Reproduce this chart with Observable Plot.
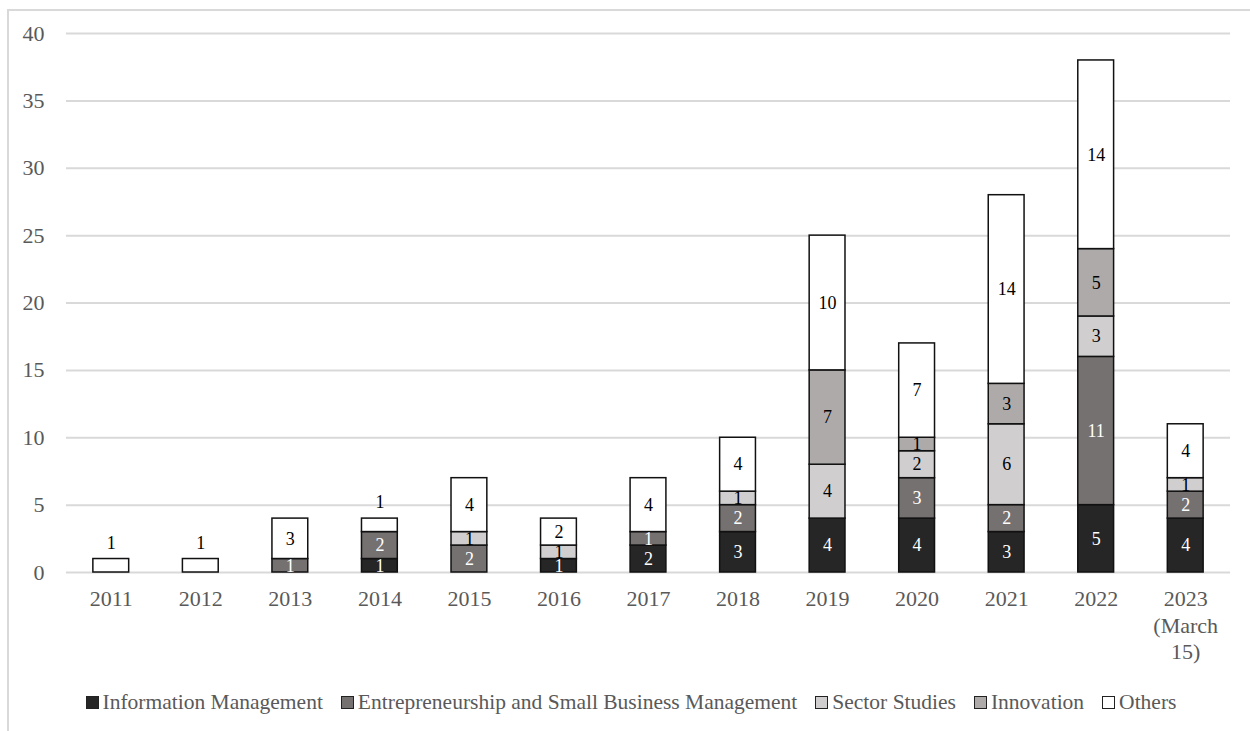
<!DOCTYPE html>
<html>
<head>
<meta charset="utf-8">
<script src="https://cdn.jsdelivr.net/npm/d3@7"></script>
<script src="https://cdn.jsdelivr.net/npm/@observablehq/plot@0.6"></script>
<style>
  html, body { margin: 0; padding: 0; background: #fff; }
  body { width: 1250px; height: 731px; overflow: hidden; position: relative; }
  #frame { position: absolute; left: 7px; top: 9px; width: 1300px; height: 800px; border-left: 2px solid #d9d9d9; border-top: 2px solid #d9d9d9; pointer-events: none; }
  #chart { position: absolute; left: 0; top: 0; }
  #legend { position: absolute; left: 0; top: 689px; width: 1250px; display: flex; justify-content: center; align-items: center; font-family: 'Liberation Serif', 'Times New Roman', serif; font-size: 21.5px; color: #595959; padding-left: 12px; box-sizing: border-box; line-height: 26px; }
  .item { display: flex; align-items: center; margin: 0 9px; white-space: nowrap; font-family: 'Liberation Serif', serif; }
  .sw { width: 11px; height: 11px; border: 1px solid #222; margin-right: 4px; box-sizing: content-box; }
</style>
</head>
<body>
<div id="chart"></div>
<div id="legend"></div>
<div id="frame"></div>
<script>
const years = ["2011","2012","2013","2014","2015","2016","2017","2018","2019","2020","2021","2022","2023"];
const yearLabels = ["2011","2012","2013","2014","2015","2016","2017","2018","2019","2020","2021","2022","2023\n(March\n15)"];
const seriesNames = ["Information Management","Entrepreneurship and Small Business Management","Sector Studies","Innovation","Others"];
const seriesColors = ["#262626","#767171","#d0cece","#aeaaaa","#ffffff"];
const darkSeries = ["Information Management","Entrepreneurship and Small Business Management"];
const infoManagement = [0,0,0,1,0,1,2,3,4,4,3,5,4];
const entrepreneurship = [0,0,1,2,2,0,1,2,0,3,2,11,2];
const sectorStudies = [0,0,0,0,1,1,0,1,4,2,6,3,1];
const innovation = [0,0,0,0,0,0,0,0,7,1,3,5,0];
const others = [1,1,3,1,4,2,4,4,10,7,14,14,4];
const yTicks = [0,5,10,15,20,25,30,35,40];

const seriesValues = [infoManagement, entrepreneurship, sectorStudies, innovation, others];
const data = [];
seriesNames.forEach((s, si) => {
  years.forEach((y, yi) => {
    data.push({year: y, series: s, value: seriesValues[si][yi]});
  });
});
const rows = data.filter(d => d.value > 0);
const labelMap = new Map(years.map((y, i) => [y, yearLabels[i]]));
const isOutside = d => d.series === "Others" && d.value === 1;

const base = {x: "year", y: "value", z: "series", order: seriesNames};
const serif = "'Liberation Serif', 'Times New Roman', serif";

const chart = Plot.plot({
  width: 1250,
  height: 680,
  marginLeft: 66,
  marginRight: 20,
  marginTop: 33,
  marginBottom: 108,
  style: {fontFamily: serif, background: "transparent"},
  x: {domain: years, paddingInner: 0.6, paddingOuter: 0.3, round: false, label: null},
  y: {domain: [0, 40], label: null},
  color: {domain: seriesNames, range: seriesColors},
  marks: [
    Plot.gridY(yTicks, {stroke: "#d9d9d9", strokeOpacity: 1, strokeWidth: 2}),
    Plot.axisY({ticks: yTicks, tickSize: 0, tickPadding: 22, fontSize: 22, fill: "#595959", fontFamily: serif, label: null}),
    Plot.axisX({tickSize: 0, tickPadding: 15, fontSize: 22, fill: "#595959", fontFamily: serif, lineHeight: 1.2, tickFormat: d => labelMap.get(d), label: null}),
    Plot.barY(rows, Plot.stackY({...base, fill: "series", stroke: "#111", strokeWidth: 1.5})),
    Plot.text(rows, Plot.stackY({...base, text: d => (darkSeries.includes(d.series) && !isOutside(d)) ? String(d.value) : "", fill: "white", fontSize: 18, fontFamily: serif})),
    Plot.text(rows, Plot.stackY({...base, text: d => (!darkSeries.includes(d.series) && !isOutside(d)) ? String(d.value) : "", fill: "black", fontSize: 18, fontFamily: serif})),
    Plot.text(rows, Plot.stackY2({...base, text: d => isOutside(d) ? String(d.value) : "", fill: "black", fontSize: 18, fontFamily: serif, dy: -16}))
  ]
});
document.getElementById("chart").appendChild(chart);

const legend = document.getElementById("legend");
seriesNames.forEach((s, i) => {
  const item = document.createElement("div");
  item.className = "item";
  const sw = document.createElement("span");
  sw.className = "sw";
  sw.style.background = seriesColors[i];
  const t = document.createElement("span");
  t.textContent = s;
  item.appendChild(sw);
  item.appendChild(t);
  legend.appendChild(item);
});
</script>
</body>
</html>
